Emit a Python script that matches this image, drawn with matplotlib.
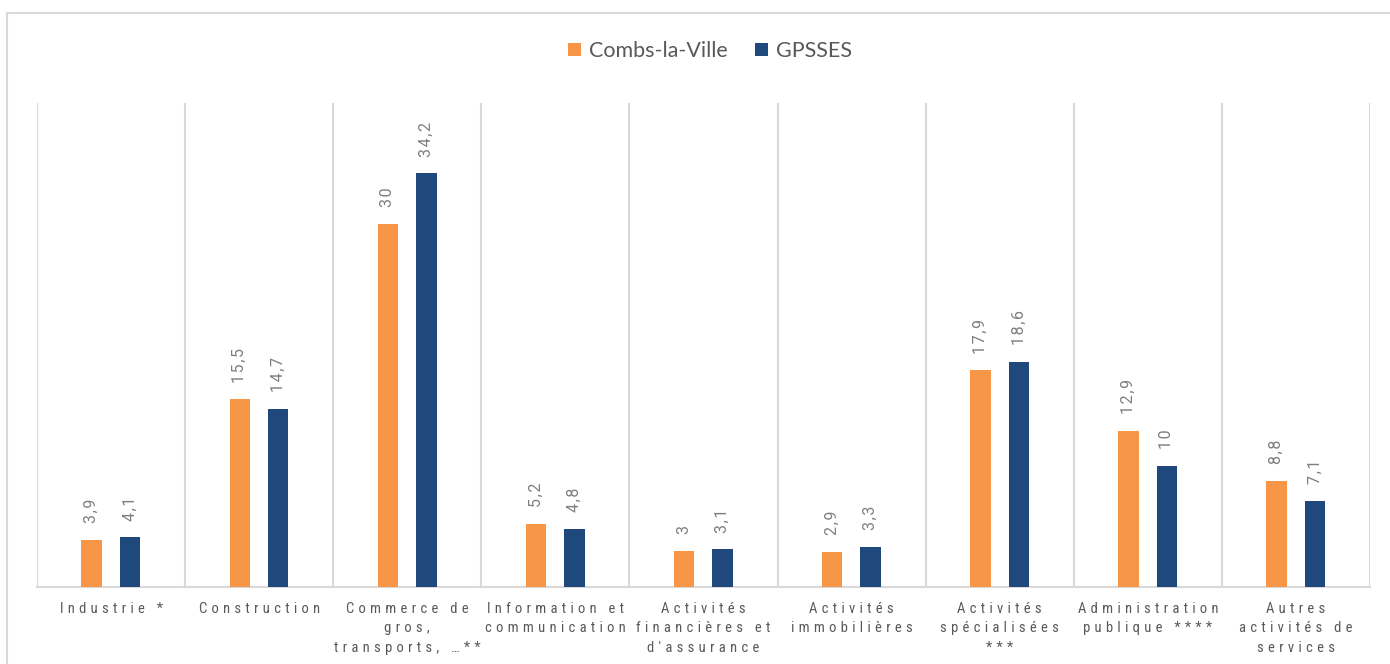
import matplotlib
matplotlib.use("Agg")
import matplotlib.pyplot as plt
from matplotlib.patches import Rectangle
import numpy as np

categories = [
    "Industrie *",
    "Construction",
    "Commerce de\ngros,\ntransports, \u2026**",
    "Information et\ncommunication",
    "Activités\nfinancières et\nd'assurance",
    "Activités\nimmobilières",
    "Activités\nspécialisées\n***",
    "Administration\npublique ****",
    "Autres\nactivités de\nservices",
]
series_names = ["Combs-la-Ville", "GPSSES"]
combs = [3.9, 15.5, 30, 5.2, 3, 2.9, 17.9, 12.9, 8.8]
gpsses = [4.1, 14.7, 34.2, 4.8, 3.1, 3.3, 18.6, 10, 7.1]

ORANGE = "#F79646"
BLUE = "#1F497D"
GRID = "#D9D9D9"
TXT = "#7F7F7F"

W, H = 1390, 664
fig = plt.figure(figsize=(W / 100, H / 100), dpi=100)

# outer chart frame
fig.patches.append(Rectangle((7 / W, -0.05), 1.2, 1 - 13 / H + 0.05,
                             transform=fig.transFigure, fill=False,
                             edgecolor=GRID, linewidth=1.5))

ax = fig.add_axes([37 / W, (H - 587) / H, (1370 - 37) / W, (587 - 103) / H])
x = np.arange(len(categories))
bw = 0.138
ax.bar(x - 0.131, combs, bw, color=ORANGE, label=series_names[0], zorder=3)
ax.bar(x + 0.129, gpsses, bw, color=BLUE, label=series_names[1], zorder=3)

ax.set_xlim(-0.5, len(categories) - 0.5)
ax.set_ylim(0, 40)
ax.set_yticks([])

for s in ["top", "left", "right"]:
    ax.spines[s].set_visible(False)
ax.spines["bottom"].set_color(GRID)
ax.spines["bottom"].set_linewidth(1.5)

for b in np.arange(-0.5, len(categories), 1.0):
    ax.axvline(b, color=GRID, linewidth=1.5, zorder=1)


def spaced(s, sep="\u2009"):
    return "\n".join(sep.join(list(line)) for line in s.split("\n"))


def fmt(v):
    return f"{v:g}".replace(".", ",")


ax.set_xticks(x)
ax.set_xticklabels([spaced(c, "\u2009\u200a") for c in categories],
                   fontsize=10.5, color="#595959",
                   family=["Roboto Condensed", "Roboto", "DejaVu Sans"],
                   linespacing=1.5)
ax.tick_params(axis="x", length=0, pad=10.5)

for xs, vals in [(x - 0.131, combs), (x + 0.129, gpsses)]:
    for xi, v in zip(xs, vals):
        ax.annotate(spaced(fmt(v), "\u200a"), (xi, v), xytext=(0, 12),
                    textcoords="offset points", rotation=90,
                    ha="center", va="bottom", fontsize=11.5, color=TXT,
                    family=["Roboto", "DejaVu Sans"])

fig.legend(loc="center", bbox_to_anchor=(710 / W, 1 - 51 / H), ncol=2,
           frameon=False, handlelength=0.6, handleheight=0.6,
           handletextpad=0.35, columnspacing=1.3,
           prop={"family": ["Lato", "DejaVu Sans"], "size": 15.5},
           labelcolor="#595959")

fig.savefig("out.png", dpi=100)
